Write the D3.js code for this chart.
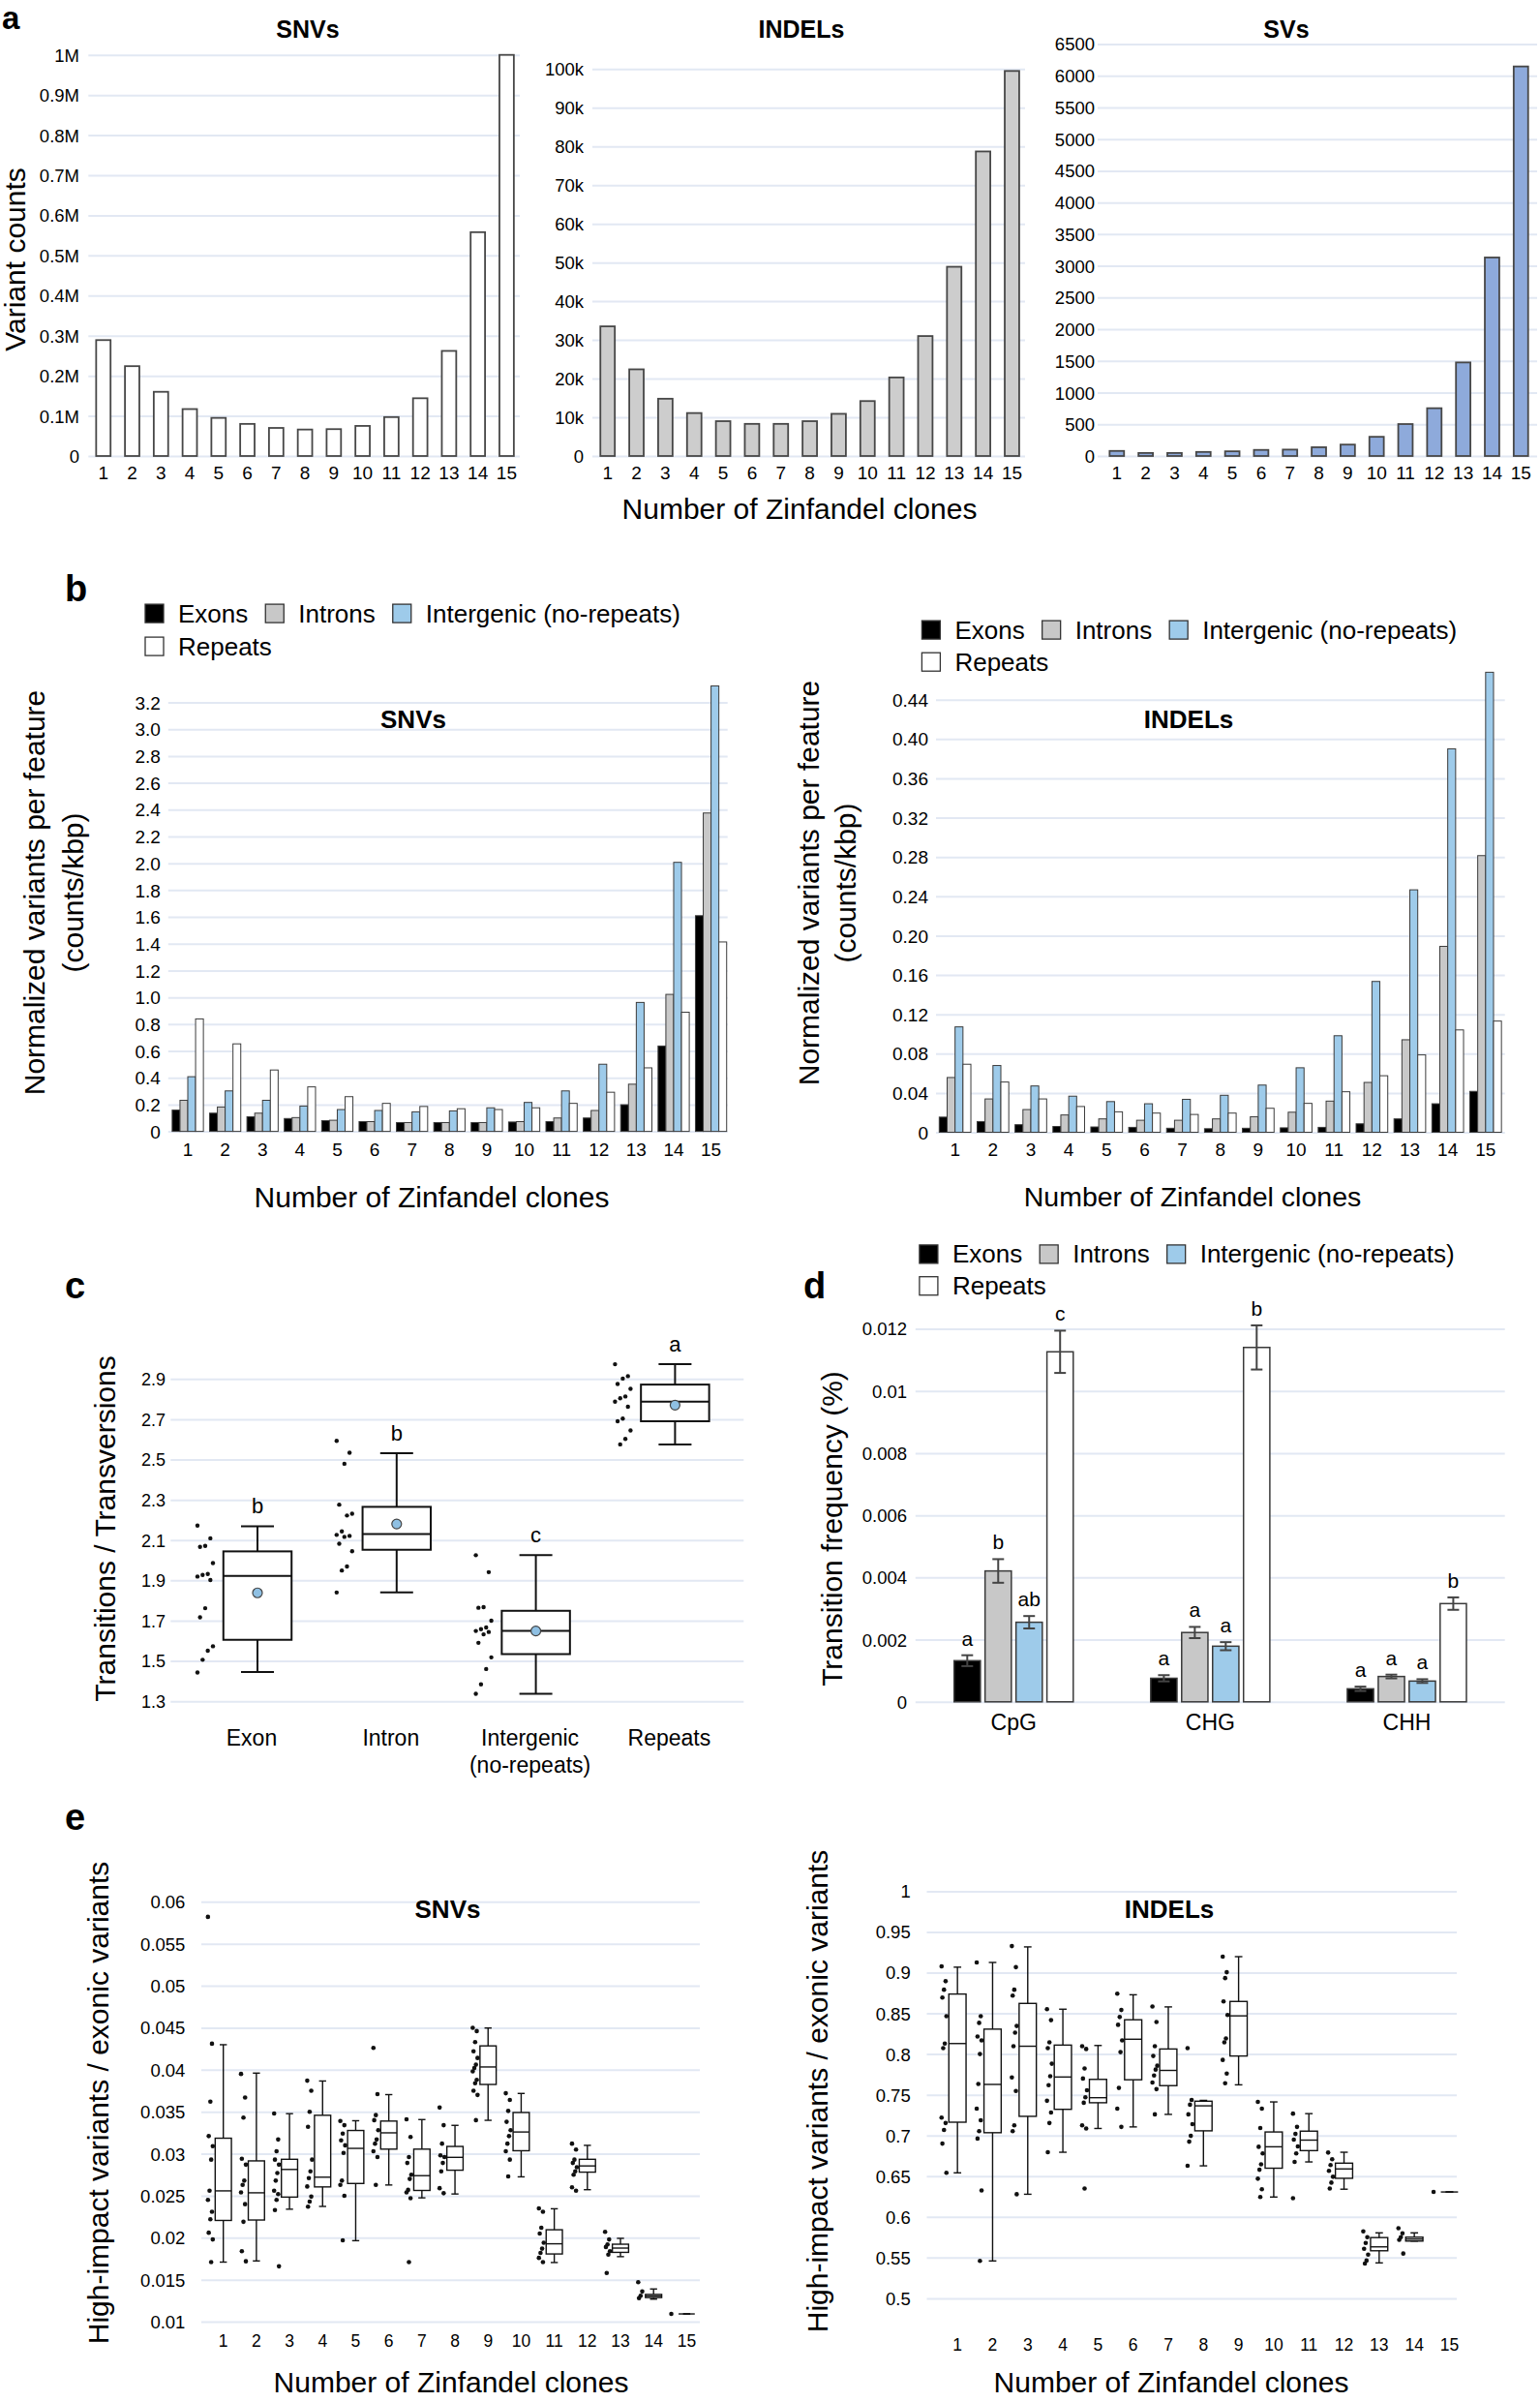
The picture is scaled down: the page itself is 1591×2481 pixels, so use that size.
<!DOCTYPE html>
<html><head><meta charset="utf-8">
<script src="https://cdn.jsdelivr.net/npm/d3@7"></script>
<style>body{margin:0;background:#fff}svg{display:block}</style>
</head><body>
<script>
// ================= DATA =================
const clones = [1,2,3,4,5,6,7,8,9,10,11,12,13,14,15];

// panel a : variant counts per number of clones
const snvCounts   = [289000,224000,160000,117000,95000,80000,70000,66000,67000,75000,97000,144000,262000,558000,1000000];
const indelCounts = [33500,22400,14800,11100,9000,8300,8300,9000,10900,14200,20300,31000,48900,78700,99500];
const svCounts    = [80,48,48,64,74,96,101,138,180,303,504,754,1476,3132,6146];
const snvCountTicks   = [0,100000,200000,300000,400000,500000,600000,700000,800000,900000,1000000];
const indelCountTicks = [0,10000,20000,30000,40000,50000,60000,70000,80000,90000,100000];
const svCountTicks    = [0,500,1000,1500,2000,2500,3000,3500,4000,4500,5000,5500,6000,6500];

// panel b : normalized variants per feature (counts/kbp)
const features = ["Exons","Introns","Intergenic (no-repeats)","Repeats"];
const snvNormExons      = [0.159,0.136,0.109,0.096,0.080,0.073,0.066,0.066,0.066,0.070,0.073,0.100,0.199,0.637,1.609];
const snvNormIntrons    = [0.232,0.182,0.136,0.103,0.083,0.073,0.066,0.066,0.066,0.073,0.100,0.156,0.352,1.022,2.375];
const snvNormIntergenic = [0.408,0.302,0.232,0.189,0.163,0.156,0.146,0.153,0.176,0.216,0.302,0.501,0.962,2.007,3.323];
const snvNormRepeats    = [0.839,0.653,0.458,0.332,0.259,0.209,0.186,0.169,0.163,0.176,0.209,0.292,0.474,0.889,1.413];
const indelNormExons      = [0.0154,0.0109,0.0077,0.0059,0.0054,0.0050,0.0041,0.0036,0.0041,0.0045,0.0050,0.0086,0.0136,0.0290,0.0416];
const indelNormIntrons    = [0.0557,0.0339,0.0231,0.0176,0.0136,0.0122,0.0122,0.0136,0.0158,0.0204,0.0317,0.0507,0.0941,0.1891,0.2814];
const indelNormIntergenic = [0.1072,0.0679,0.0471,0.0367,0.0312,0.0290,0.0335,0.0376,0.0480,0.0656,0.0982,0.1534,0.2466,0.3900,0.4679];
const indelNormRepeats    = [0.0692,0.0511,0.0339,0.0262,0.0208,0.0195,0.0181,0.0195,0.0244,0.0294,0.0412,0.0575,0.0787,0.1041,0.1131];
const snvNormTicks   = [0,0.2,0.4,0.6,0.8,1.0,1.2,1.4,1.6,1.8,2.0,2.2,2.4,2.6,2.8,3.0,3.2];
const indelNormTicks = [0,0.04,0.08,0.12,0.16,0.20,0.24,0.28,0.32,0.36,0.40,0.44];

// panel c : transitions / transversions
const regions = [["Exon"],["Intron"],["Intergenic","(no-repeats)"],["Repeats"]];
const tsTvMin    = [1.445,1.840,1.337,2.575];
const tsTvQ1     = [1.605,2.052,1.534,2.690];
const tsTvMedian = [1.922,2.130,1.649,2.787];
const tsTvQ3     = [2.044,2.265,1.749,2.872];
const tsTvMax    = [2.168,2.531,2.025,2.973];
const tsTvMean   = [1.838,2.180,1.649,2.770];
const tsTvLetters = ["b","b","c","a"];
const tsTvPoints = [
  [2.172,2.109,2.071,2.066,1.986,1.932,1.927,1.919,1.902,1.762,1.717,1.573,1.551,1.506,1.443],
  [2.593,2.534,2.479,2.276,2.231,2.222,2.143,2.126,2.121,2.116,2.082,2.045,1.969,1.949,1.840],
  [2.025,1.941,1.767,1.764,1.700,1.666,1.658,1.649,1.644,1.632,1.590,1.518,1.460,1.384,1.337],
  [2.973,2.914,2.902,2.875,2.851,2.813,2.804,2.787,2.762,2.703,2.690,2.644,2.602,2.575]
];
const tsTvTicks = [1.3,1.5,1.7,1.9,2.1,2.3,2.5,2.7,2.9];

// panel d : transition frequency (%)
const contexts = ["CpG","CHG","CHH"];
const transExons         = [0.001324,0.000758,0.000419];
const transExonsErr      = [0.000175,0.000100,0.000070];
const transIntrons       = [0.00421,0.00223,0.000815];
const transIntronsErr    = [0.00038,0.00018,0.00006];
const transIntergenic    = [0.00256,0.00179,0.000668];
const transIntergenicErr = [0.00020,0.00013,0.00006];
const transRepeats       = [0.01126,0.01140,0.00316];
const transRepeatsErr    = [0.00068,0.00071,0.00020];
const transLetters = [["a","b","ab","c"],["a","a","a","b"],["a","a","a","b"]];
const transTicks = [0,0.002,0.004,0.006,0.008,0.010,0.012];

// panel e : high-impact / exonic variants  [min, q1, median, q3, max]
const hiSnvStats = [
  [0.0171,0.02206,0.02558,0.03185,0.04298],[0.01724,0.02211,0.02535,0.02915,0.0396],
  [0.0234,0.02484,0.02813,0.02934,0.03477],[0.02373,0.02605,0.02721,0.03458,0.03866],
  [0.01965,0.02646,0.03064,0.03277,0.03393],[0.02628,0.03055,0.03249,0.03389,0.03704],
  [0.02475,0.02563,0.02739,0.03055,0.03407],[0.02521,0.02804,0.02957,0.03087,0.03338],
  [0.03398,0.03825,0.04033,0.04284,0.04497],[0.02725,0.03036,0.03259,0.03491,0.03718],
  [0.01705,0.01807,0.01928,0.02095,0.02345],[0.02572,0.02781,0.02855,0.02934,0.0310],
  [0.01775,0.01826,0.01877,0.01923,0.01993],[0.01269,0.01288,0.01306,0.01325,0.0139],
  [0.01093,0.01093,0.01093,0.01093,0.01093]
];
const hiSnvPoints = [
  [0.0582,0.0431,0.0362,0.0321,0.0309,0.0293,0.0256,0.0245,0.0231,0.0222,0.0206,0.0198,0.0171],
  [0.0395,0.0367,0.0343,0.0294,0.0287,0.0268,0.0263,0.0254,0.0240,0.0219,0.0184,0.0172],
  [0.0348,0.0317,0.0303,0.0293,0.0287,0.0277,0.0268,0.0256,0.0252,0.0245,0.0233,0.0166],
  [0.0387,0.0375,0.0350,0.0332,0.0293,0.0279,0.0271,0.0261,0.0249,0.0243,0.0237],
  [0.0339,0.0334,0.0324,0.0316,0.0310,0.0301,0.0268,0.0263,0.0250,0.0197],
  [0.0426,0.0371,0.0346,0.0340,0.0328,0.0317,0.0312,0.0303,0.0296,0.0263],
  [0.0341,0.0320,0.0296,0.0289,0.0275,0.0270,0.0257,0.0254,0.0247,0.0171],
  [0.0355,0.0334,0.0312,0.0298,0.0296,0.0289,0.0279,0.0259,0.0253],
  [0.0450,0.0446,0.0433,0.0422,0.0414,0.0406,0.0402,0.0398,0.0388,0.0384,0.0375,0.0370,0.0340],
  [0.0372,0.0364,0.0351,0.0338,0.0328,0.0321,0.0312,0.0303,0.0293,0.0273],
  [0.0235,0.0231,0.0212,0.0205,0.0194,0.0187,0.0182,0.0176,0.0171],
  [0.0312,0.0305,0.0293,0.0289,0.0284,0.0279,0.0275,0.0260,0.0256],
  [0.0207,0.0198,0.0192,0.0189,0.0184,0.0180,0.0158],
  [0.0147,0.0136,0.0131,0.0128],
  [0.01093]
];
const hiIndelStats = [
  [0.6541,0.7163,0.8129,0.8737,0.9067],[0.5459,0.7034,0.7627,0.8306,0.9125],
  [0.6278,0.7235,0.8096,0.8622,0.9316],[0.6794,0.7321,0.7718,0.8110,0.8551],
  [0.7086,0.7402,0.7464,0.7689,0.8105],[0.7105,0.7684,0.8182,0.8421,0.8728],
  [0.7259,0.7612,0.7799,0.8062,0.8579],[0.6627,0.7057,0.7364,0.7421,0.7431],
  [0.7622,0.7976,0.8469,0.8646,0.9196],[0.6244,0.6598,0.6861,0.7043,0.7412],
  [0.6675,0.6814,0.6943,0.7053,0.7268],[0.6340,0.6474,0.6589,0.6660,0.6794],
  [0.5435,0.5584,0.5632,0.5746,0.5804],[0.5703,0.5703,0.5727,0.5751,0.5804],
  [0.6306,0.6306,0.6306,0.6306,0.6306]
];
const hiIndelPoints = [
  [0.9077,0.8895,0.8790,0.8694,0.8465,0.8129,0.8072,0.7220,0.7153,0.7067,0.6900,0.6541],
  [0.9125,0.8465,0.8383,0.8216,0.8168,0.8000,0.7632,0.7330,0.7187,0.7053,0.6962,0.6325,0.5459],
  [0.9326,0.9067,0.8790,0.8718,0.8345,0.8263,0.8096,0.7713,0.7546,0.7125,0.7053,0.6278],
  [0.8551,0.8416,0.8144,0.8072,0.7881,0.7727,0.7617,0.7426,0.7282,0.7153,0.6794],
  [0.8096,0.8062,0.7823,0.7699,0.7555,0.7469,0.7402,0.7125,0.7086,0.6349],
  [0.8742,0.8541,0.8455,0.8359,0.8168,0.8024,0.7584,0.7330,0.7105],
  [0.8584,0.8393,0.8096,0.7976,0.7857,0.7809,0.7737,0.7651,0.7569,0.7259],
  [0.8072,0.7436,0.7378,0.7259,0.7139,0.6995,0.6924,0.6627],
  [0.9196,0.9005,0.8933,0.8646,0.8479,0.8192,0.8144,0.7928,0.7761,0.7641],
  [0.7412,0.7330,0.7091,0.6861,0.6780,0.6646,0.6579,0.6469,0.6340,0.6244],
  [0.7268,0.7105,0.7019,0.6948,0.6866,0.6780,0.6675,0.6230],
  [0.6790,0.6708,0.6636,0.6565,0.6493,0.6421,0.6349],
  [0.5823,0.5751,0.5680,0.5608,0.5536,0.5464,0.5426],
  [0.5861,0.5799,0.5751,0.5718,0.5550],
  [0.6306]
];
const hiSnvTicks   = [0.01,0.015,0.02,0.025,0.03,0.035,0.04,0.045,0.05,0.055,0.06];
const hiIndelTicks = [0.5,0.55,0.6,0.65,0.7,0.75,0.8,0.85,0.9,0.95,1];

// ================= STYLE =================
const FONT = '"Liberation Sans", Arial, Helvetica, sans-serif';
const GRID = "#e2e8f3";
const featureColors = ["#000000","#c8c8c8","#9ecbea","#ffffff"];
const jit = i => ((i*5)%7 - 3)/3;

const svg = d3.select("body").append("svg").attr("width",1591).attr("height",2481);
svg.append("rect").attr("width",1591).attr("height",2481).attr("fill","#fff");

function txt(x,y,s,fs,o={}){
  return svg.append("text").attr("x",x).attr("y",y).attr("font-size",fs).attr("font-family",FONT)
    .attr("text-anchor",o.anchor||"middle").attr("dominant-baseline",o.base||"central")
    .attr("font-weight",o.bold?"bold":null).attr("fill","#000").text(s);
}
function vtxt(cx,cy,s,fs){
  return svg.append("text").attr("transform",`translate(${cx},${cy}) rotate(-90)`).attr("font-size",fs)
    .attr("font-family",FONT).attr("text-anchor","middle").attr("dominant-baseline","central").attr("fill","#000").text(s);
}
function panelLetter(x,y,s,fs){ txt(x,y,s,fs||38,{anchor:"start",base:"alphabetic",bold:true}); }

function yAxisGrid(y,ticks,fmt,gx0,gx1,labelRight,fs){
  svg.append("g").attr("transform",`translate(${gx0},0)`)
    .call(d3.axisLeft(y).tickValues(ticks).tickSize(-(gx1-gx0)).tickFormat(""))
    .call(a=>{a.select(".domain").remove();a.selectAll("line").attr("stroke",GRID).attr("stroke-width",2);});
  svg.append("g").attr("transform",`translate(${labelRight},0)`)
    .call(d3.axisLeft(y).tickValues(ticks).tickSize(0).tickPadding(0).tickFormat(fmt))
    .call(a=>{a.select(".domain").remove();a.selectAll("text").attr("font-size",fs).attr("font-family",FONT).attr("fill","#000").attr("dy","0.35em");});
}
function xAxisLabels(x,yPos,fs){
  svg.append("g").attr("transform",`translate(0,${yPos})`)
    .call(d3.axisBottom(x).tickSize(0).tickPadding(0))
    .call(a=>{a.select(".domain").remove();a.selectAll("text").attr("font-size",fs).attr("font-family",FONT).attr("fill","#000").attr("dy","0.35em");});
}
function legend(x,y1,y2){
  let cx=x;
  features.forEach((f,i)=>{
    const row=i<3?y1:y2; if(i===3) cx=x;
    svg.append("rect").attr("x",cx).attr("y",row-9.5).attr("width",19).attr("height",19)
      .attr("fill",featureColors[i]).attr("stroke","#333").attr("stroke-width",1.3);
    const t=txt(cx+34,row,f,26,{anchor:"start"});
    cx=cx+34+t.node().getComputedTextLength()+18;
  });
}

// ================= PANEL A =================
panelLetter(2,30,"a",33);
function countPanel(c){
  const x=d3.scaleBand().domain(clones).range([c.x0,c.x1]).paddingInner(0.5).paddingOuter(0.25);
  const y=d3.scaleLinear().domain([0,c.top]).range([471,c.yTop]);
  yAxisGrid(y,c.ticks,c.fmt,c.gx0,c.gx1,c.labelRight,18.5);
  svg.append("g").selectAll("rect").data(c.values).join("rect")
    .attr("x",(d,i)=>x(clones[i])).attr("y",d=>y(d)).attr("width",x.bandwidth()).attr("height",d=>y(0)-y(d))
    .attr("fill",c.fill).attr("stroke","#474747").attr("stroke-width",1.8);
  xAxisLabels(x,488,19);
  txt(c.titleX,29.5,c.title,25,{bold:true});
}
countPanel({values:snvCounts,ticks:snvCountTicks,top:1000000,yTop:56.7,x0:91.9,x1:538.3,gx0:91.3,gx1:537,labelRight:82,
  fmt:d=>d===0?"0":(d/1e6)+"M",fill:"#ffffff",title:"SNVs",titleX:318});
countPanel({values:indelCounts,ticks:indelCountTicks,top:100000,yTop:71.3,x0:612.8,x1:1060.4,gx0:612,gx1:1059,labelRight:603,
  fmt:d=>d===0?"0":(d/1000)+"k",fill:"#cdcdcd",title:"INDELs",titleX:828});
countPanel({values:svCounts,ticks:svCountTicks,top:6000,yTop:78.2,x0:1138.9,x1:1586.2,gx0:1134,gx1:1588,labelRight:1131,
  fmt:d=>String(d),fill:"#8eaadb",title:"SVs",titleX:1329});
vtxt(15,268,"Variant counts",30);
txt(826,525,"Number of Zinfandel clones",30);

// ================= PANEL B =================
panelLetter(67,621,"b");
function normPanel(c){
  const x0=d3.scaleBand().domain(clones).range([c.x0,c.x1]).paddingInner(0.165).paddingOuter(0.0825);
  const x1=d3.scaleBand().domain(features).range([0,x0.bandwidth()]);
  const y=d3.scaleLinear().domain([0,c.top]).range([c.yBase,c.yTop]);
  yAxisGrid(y,c.ticks,c.fmt,c.gx0,c.gx1,c.gx0-8,19);
  c.series.forEach((s,k)=>{
    svg.append("g").selectAll("rect").data(s).join("rect")
      .attr("x",(d,i)=>x0(clones[i])+x1(features[k])).attr("y",d=>y(d)).attr("width",x1.bandwidth())
      .attr("height",d=>y(0)-y(d)).attr("fill",featureColors[k]).attr("stroke","#3c3c3c").attr("stroke-width",1);
  });
  xAxisLabels(x0,1187,19);
  txt(c.titleX,743.4,c.title,26,{bold:true});
  vtxt(c.ytx1,c.yty,"Normalized variants per feature",30);
  vtxt(c.ytx2,c.yty,"(counts/kbp)",30);
  txt(c.xtx,1236,"Number of Zinfandel clones",c.xfs);
}
normPanel({series:[snvNormExons,snvNormIntrons,snvNormIntergenic,snvNormRepeats],ticks:snvNormTicks,top:3.2,
  yBase:1168.6,yTop:725.5,x0:174.7,x1:753.9,gx0:173.8,gx1:751.7,fmt:d=>d===0?"0":d3.format(".1f")(d),
  title:"SNVs",titleX:427,ytx1:35,ytx2:75,yty:922,xtx:446,xfs:30});
normPanel({series:[indelNormExons,indelNormIntrons,indelNormIntergenic,indelNormRepeats],ticks:indelNormTicks,top:0.44,
  yBase:1169.5,yTop:722.7,x0:967.1,x1:1554.4,gx0:967,gx1:1554.7,fmt:d=>d===0?"0":d3.format(".2f")(d),
  title:"INDELs",titleX:1228,ytx1:835,ytx2:873,yty:912,xtx:1232,xfs:28.5});
legend(150,633.6,667.6);
legend(952.4,650.6,683.7);

// ================= PANEL C =================
panelLetter(67,1341,"c");
(function(){
  const names=regions.map(r=>r.join(" "));
  const x=d3.scaleBand().domain(names).range([194.1,769.3]).paddingInner(0.51).paddingOuter(0.255);
  const y=d3.scaleLinear().domain([1.3,2.9]).range([1757.2,1424.3]);
  yAxisGrid(y,tsTvTicks,d3.format(".1f"),176.3,768.3,171,18);
  const bw=x.bandwidth();
  const g=svg.append("g").attr("stroke","#111").attr("stroke-width",2);
  names.forEach((n,i)=>{
    const cx=x(n)+bw/2;
    g.append("line").attr("x1",cx).attr("x2",cx).attr("y1",y(tsTvMax[i])).attr("y2",y(tsTvMin[i]));
    [tsTvMax[i],tsTvMin[i]].forEach(v=>g.append("line").attr("x1",cx-17).attr("x2",cx+17).attr("y1",y(v)).attr("y2",y(v)));
    g.append("rect").attr("x",x(n)).attr("y",y(tsTvQ3[i])).attr("width",bw).attr("height",y(tsTvQ1[i])-y(tsTvQ3[i])).attr("fill","#fff");
    g.append("line").attr("x1",x(n)).attr("x2",x(n)+bw).attr("y1",y(tsTvMedian[i])).attr("y2",y(tsTvMedian[i]));
    svg.append("circle").attr("cx",cx).attr("cy",y(tsTvMean[i])).attr("r",5).attr("fill","#8fc0e3").attr("stroke","#444").attr("stroke-width",1.2);
    svg.append("g").selectAll("circle").data(tsTvPoints[i]).join("circle")
      .attr("cx",(d,j)=>cx-54+jit(j)*8).attr("cy",d=>y(d)).attr("r",2.2).attr("fill","#111");
    txt(cx,y(tsTvMax[i])-21,tsTvLetters[i],22);
    regions[i].forEach((line,li)=>txt(cx-6,1795+li*28,line,23));
  });
  vtxt(108,1579,"Transitions / Transversions",30);
})();

// ================= PANEL D =================
panelLetter(830,1341,"d");
(function(){
  const x0=d3.scaleBand().domain(contexts).range([945.7,1555]).paddingInner(0.394).paddingOuter(0.197);
  const x1=d3.scaleBand().domain(features).range([0,x0.bandwidth()]).paddingInner(0.15);
  const y=d3.scaleLinear().domain([0,0.012]).range([1757.8,1372.5]);
  yAxisGrid(y,transTicks,d=>d===0?"0":d3.format(".3~f")(d),945.8,1554.7,937,18.5);
  const vals=[transExons,transIntrons,transIntergenic,transRepeats];
  const errs=[transExonsErr,transIntronsErr,transIntergenicErr,transRepeatsErr];
  vals.forEach((s,k)=>{
    s.forEach((v,i)=>{
      const bx=x0(contexts[i])+x1(features[k]), bw=x1.bandwidth(), cx=bx+bw/2;
      svg.append("rect").attr("x",bx).attr("y",y(v)).attr("width",bw).attr("height",y(0)-y(v))
        .attr("fill",featureColors[k]).attr("stroke","#3a3a3a").attr("stroke-width",1.5);
      const e=errs[k][i];
      const g=svg.append("g").attr("stroke","#444").attr("stroke-width",2);
      g.append("line").attr("x1",cx).attr("x2",cx).attr("y1",y(v+e)).attr("y2",y(v-e));
      [v+e,v-e].forEach(t=>g.append("line").attr("x1",cx-6).attr("x2",cx+6).attr("y1",y(t)).attr("y2",y(t)));
      txt(cx,y(v+e)-17.5,transLetters[i][k],21);
    });
  });
  xAxisLabels(x0,1779,23);
  vtxt(859,1579,"Transition frequency (%)",30);
})();
legend(949.9,1295.4,1328.2);

// ================= PANEL E =================
panelLetter(67,1890,"e");
function hiPanel(c){
  const x=d3.scaleBand().domain(clones).range([c.x0,c.x1]).paddingInner(0.51).paddingOuter(0.255);
  const y=d3.scaleLinear().domain(c.domain).range([c.yBase,c.yTop]);
  yAxisGrid(y,c.ticks,c.fmt,c.gx0,c.gx1,c.labelRight,18.5);
  const bw=x.bandwidth();
  c.stats.forEach((s,i)=>{
    const x0=x(clones[i]), cx=x0+bw/2;
    const g=svg.append("g").attr("stroke","#111").attr("stroke-width",1.4);
    g.append("line").attr("x1",cx).attr("x2",cx).attr("y1",y(s[4])).attr("y2",y(s[0]));
    [s[4],s[0]].forEach(v=>g.append("line").attr("x1",cx-bw*0.22).attr("x2",cx+bw*0.22).attr("y1",y(v)).attr("y2",y(v)));
    g.append("rect").attr("x",x0).attr("y",y(s[3])).attr("width",bw).attr("height",y(s[1])-y(s[3])).attr("fill","#fff");
    g.append("line").attr("x1",x0).attr("x2",x0+bw).attr("y1",y(s[2])).attr("y2",y(s[2]));
    svg.append("g").selectAll("circle").data(c.points[i]).join("circle")
      .attr("cx",(d,j)=>x0-5+jit(j)*2.5).attr("cy",d=>y(d)).attr("r",2.3).attr("fill","#111");
  });
  xAxisLabels(x,c.xly,17.5);
  txt(c.titleX,1971.5,c.title,26,{bold:true});
  vtxt(c.ytx,c.yty,"High-impact variants / exonic variants",30);
  txt(c.xtx,2460,"Number of Zinfandel clones",30);
}
hiPanel({stats:hiSnvStats,points:hiSnvPoints,ticks:hiSnvTicks,domain:[0.01,0.06],yBase:2398.1,yTop:1964.3,
  x0:213.6,x1:726.5,gx0:208,gx1:723,labelRight:191.4,fmt:d3.format(".3~f"),xly:2417.4,
  title:"SNVs",titleX:462.5,ytx:101,yty:2172,xtx:466});
hiPanel({stats:hiIndelStats,points:hiIndelPoints,ticks:hiIndelTicks,domain:[0.5,1],yBase:2373.9,yTop:1953.4,
  x0:971,x1:1515.6,gx0:957.5,gx1:1505,labelRight:940.7,fmt:d3.format(".2~f"),xly:2421.4,
  title:"INDELs",titleX:1208,ytx:844,yty:2160,xtx:1210});
</script>
</body></html>
